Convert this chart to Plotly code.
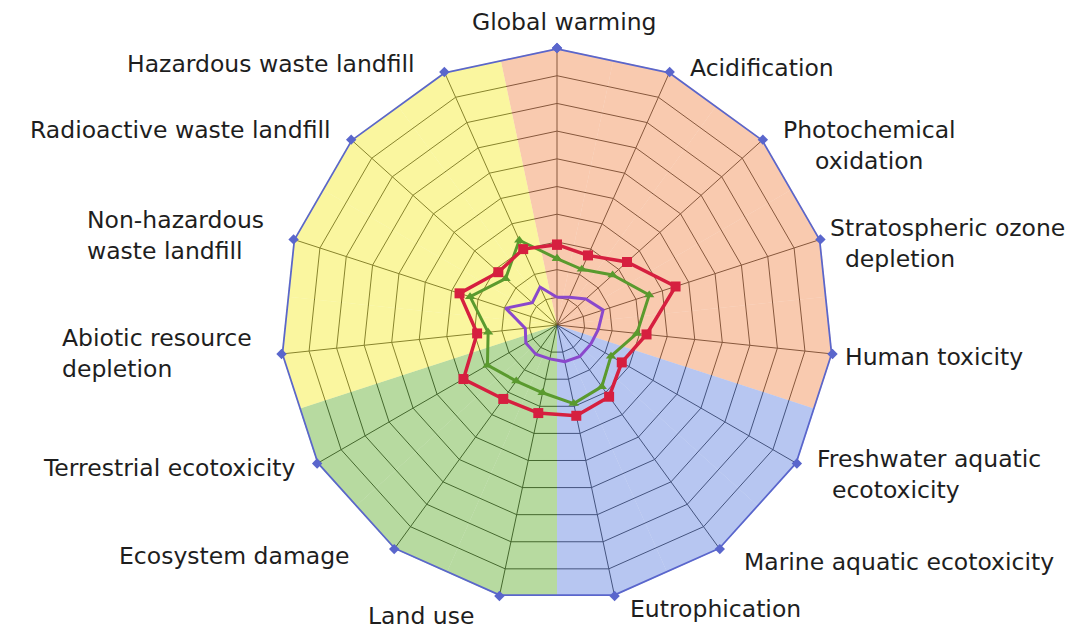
import plotly.graph_objects as go

categories = [
    "Global warming", "Acidification", "Photochemical oxidation",
    "Stratospheric ozone depletion", "Human toxicity",
    "Freshwater aquatic ecotoxicity", "Marine aquatic ecotoxicity",
    "Eutrophication", "Land use", "Ecosystem damage",
    "Terrestrial ecotoxicity", "Abiotic resource depletion",
    "Non-hazardous waste landfill", "Radioactive waste landfill",
    "Hazardous waste landfill",
]
label_texts = [
    "Global warming", "Acidification", "Photochemical<br>oxidation",
    "Stratospheric ozone<br>\u00a0\u00a0depletion", "Human toxicity",
    "Freshwater aquatic<br>\u00a0\u00a0ecotoxicity", "Marine aquatic ecotoxicity",
    "Eutrophication", "Land use", "Ecosystem damage",
    "Terrestrial ecotoxicity", "Abiotic resource<br>depletion",
    "Non-hazardous<br>waste landfill", "Radioactive waste landfill",
    "Hazardous waste landfill",
]

# background sector group for each category
PINK, BLUE, GREEN, YELLOW = ("rgba(243,150,96,0.5)", "rgba(112,142,228,0.5)",
                             "rgba(112,182,66,0.5)", "rgba(245,238,64,0.5)")
sector_colors = [PINK] * 5 + [BLUE] * 3 + [GREEN] * 3 + [YELLOW] * 4

outer_values = [10] * 15
red_values = [2.9, 2.75, 3.4, 4.5, 3.25, 2.7, 3.2, 3.35, 3.25, 3.3, 3.9, 2.9, 3.7, 2.85, 3.0]
green_values = [2.4, 2.2, 2.7, 3.5, 2.9, 2.25, 2.75, 2.9, 2.5, 2.5, 2.9, 2.5, 3.3, 2.5, 3.35]
purple_values = [1.0, 1.1, 1.4, 1.75, 1.5, 1.4, 1.4, 1.35, 1.25, 1.3, 1.3, 1.15, 1.95, 1.2, 1.5]

# label placement (pixel position in the page, anchor/alignment)
label_pos = [
    (564, 22, "center"), (688, 68, "left"), (869, 145, "center"),
    (828, 243, "left"), (843, 357, "left"), (815, 475, "left"),
    (742, 562, "left"), (628, 609, "left"), (421, 616, "center"),
    (352, 556, "right"), (297, 468, "right"), (60, 353, "left"),
    (85, 235, "left"), (333, 130, "right"), (417, 64, "right"),
]

W, H = 1082, 631
PAGE_OFFSET = 8  # default page margin of the html body


def closed(vals):
    return list(vals) + [vals[0]]


theta_closed = categories + [categories[0]]

fig = go.Figure()

fig.add_trace(go.Barpolar(
    r=outer_values, theta=categories,
    marker=dict(color=sector_colors, line=dict(width=0)),
    hoverinfo="skip", showlegend=False,
))

fig.add_trace(go.Scatterpolar(
    r=closed(outer_values), theta=theta_closed, mode="lines+markers",
    line=dict(color="#5a66cc", width=3.5),
    marker=dict(symbol="diamond", size=8, color="#5a66cc"),
    showlegend=False,
))
fig.add_trace(go.Scatterpolar(
    r=closed(purple_values), theta=theta_closed, mode="lines",
    line=dict(color="#8a48cc", width=3),
    showlegend=False,
))
fig.add_trace(go.Scatterpolar(
    r=closed(green_values), theta=theta_closed, mode="lines+markers",
    line=dict(color="#5a9a2e", width=3),
    marker=dict(symbol="triangle-up", size=9, color="#5a9a2e"),
    showlegend=False,
))
fig.add_trace(go.Scatterpolar(
    r=closed(red_values), theta=theta_closed, mode="lines+markers",
    line=dict(color="#d61f3f", width=3.5),
    marker=dict(symbol="square", size=10, color="#d61f3f"),
    showlegend=False,
))

annotations = []
for txt, (px, py, anc) in zip(label_texts, label_pos):
    annotations.append(dict(
        text=txt, x=(px - PAGE_OFFSET) / W, y=1 - (py - PAGE_OFFSET) / H,
        xref="paper", yref="paper",
        xanchor=anc, yanchor="middle", align=anc, showarrow=False,
        font=dict(family="DejaVu Sans", size=23.5, color="#1e1e1e"),
    ))

fig.update_layout(
    width=W, height=H,
    margin=dict(l=0, r=0, t=0, b=0),
    paper_bgcolor="white",
    font=dict(family="DejaVu Sans", size=23.5, color="#1e1e1e"),
    annotations=annotations,
    polar=dict(
        domain=dict(x=[0.2514, 0.7634], y=[0.0586, 0.9366]),
        gridshape="linear",
        bgcolor="white",
        bargap=0,
        radialaxis=dict(range=[0, 10], dtick=1, showticklabels=False, ticks="",
                        showline=False, gridcolor="#1a1a1a", gridwidth=1.4),
        angularaxis=dict(rotation=90, direction="clockwise", ticks="",
                         showticklabels=False,
                         showline=False, gridcolor="#1a1a1a", gridwidth=1.4),
        barmode="overlay",
    ),
)

fig.write_html("out.html")
